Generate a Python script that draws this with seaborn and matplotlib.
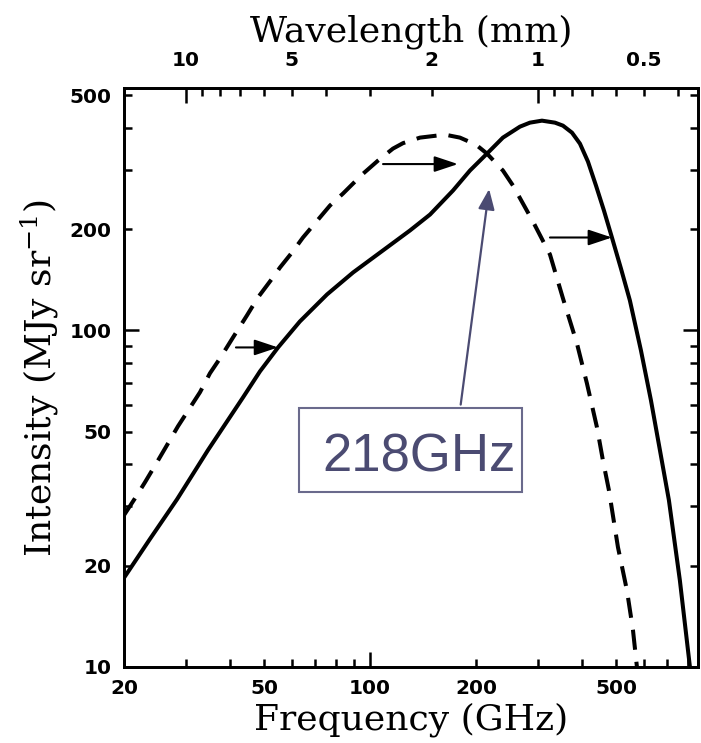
import numpy as np
import pandas as pd
import matplotlib
matplotlib.use("Agg")
import matplotlib.pyplot as plt
import seaborn as sns
from matplotlib.patches import Rectangle

# ---- data ----
solid_freq = [20.0, 23.7, 28.3, 34.65, 43.6, 48.7, 54.8, 63.2, 75.5, 89.5, 111.7, 129.9,
              148.1, 172.1, 192.3, 215.0, 238.6, 266.7, 284.7, 308.0, 335.4, 353.4, 374.9,
              395.0, 416.2, 438.6, 462.1, 486.9, 516.4, 547.6, 588.5, 628.4, 666.4, 706.8,
              759.3, 811.0, 816.0]
solid_int = [18.4, 24.0, 31.5, 44.1, 63.3, 75.6, 89.0, 106.3, 127.9, 148.6, 176.3, 198.1,
             220.9, 260.3, 298.5, 335.1, 373.9, 403.0, 414.2, 419.9, 414.2, 405.8, 386.8,
             358.7, 317.3, 269.4, 227.0, 188.8, 152.8, 122.7, 87.3, 62.0, 44.1, 31.3,
             18.1, 10.0, 9.5]

dash_freq = [20.0, 21.49, 22.95, 24.82, 26.49, 28.47, 32.88, 35.10, 37.48, 40.81, 44.71,
             48.05, 53.01, 55.50, 60.03, 64.50, 76.94, 83.80, 94.92, 105.4, 116.2, 124.1,
             138.7, 163.3, 180.1, 200.0, 215.0, 238.6, 254.8, 290.4, 324.6, 353.4, 387.2,
             413.4, 441.5, 459.0, 477.4, 506.4, 537.0, 558.6, 573.4, 577.0]
dash_int = [28.25, 31.7, 35.4, 40.6, 45.6, 51.9, 65.5, 74.6, 82.6, 95.3, 110.8, 125.3,
            143.7, 153.8, 170.4, 188.8, 234.9, 255.0, 290.3, 319.6, 346.8, 360.0, 373.9,
            381.6, 373.9, 356.3, 335.1, 298.5, 269.4, 210.6, 168.1, 124.5, 91.5, 69.6,
            51.5, 41.1, 33.5, 22.7, 16.9, 12.9, 10.0, 9.5]

arrow_from_freq = [41.6, 108.9, 324.6]
arrow_to_freq = [54.8, 177.8, 486.9]
arrow_int = [89.0, 312, 188.8]

marker_freq = 218
marker_tip_int = 263
marker_tail = (181, 60.2)
marker_text = "218GHz"

x_major = [100]
x_minor = [20, 30, 40, 50, 60, 70, 80, 90, 200, 300, 400, 500, 600, 700, 800]
x_minor_labels = ["20", "", "", "50", "", "", "", "", "200", "", "", "500", "", "", ""]
y_major = [10, 100]
y_minor = [20, 30, 40, 50, 60, 70, 80, 90, 200, 300, 400, 500]
y_minor_labels = ["20", "", "", "50", "", "", "", "", "200", "", "", "500"]
wl_major = [10, 1]
wl_minor = [9, 8, 7, 6, 5, 4, 3, 2, 0.9, 0.8, 0.7, 0.6, 0.5, 0.4]
wl_minor_labels = ["", "", "", "", "5", "", "", "2", "", "", "", "", "0.5", ""]
C_MM_GHZ = 299.79

# ---- styling ----
sns.set_theme(style="ticks")
plt.rcParams['font.family'] = ['DejaVu Sans']
plt.rcParams['text.color'] = 'black'
plt.rcParams['axes.labelcolor'] = 'black'
plt.rcParams['mathtext.fontset'] = 'custom'
plt.rcParams['mathtext.rm'] = 'DejaVu Serif'
plt.rcParams['mathtext.default'] = 'rm'

W, H = 701, 743
fig = plt.figure(figsize=(W / 100, H / 100), dpi=100)
L, R, B, T = 124, 698, 667, 88
ax = fig.add_axes([L / W, (H - B) / H, (R - L) / W, (B - T) / H])
ax.set_xscale('log')
ax.set_yscale('log')

df_s = pd.DataFrame({'freq': solid_freq, 'intensity': solid_int})
df_d = pd.DataFrame({'freq': dash_freq, 'intensity': dash_int})
sns.lineplot(data=df_s, x='freq', y='intensity', ax=ax, color='black', lw=2.9,
             sort=False, estimator=None, solid_joinstyle='round')
sns.lineplot(data=df_d, x='freq', y='intensity', ax=ax, color='black', lw=2.9,
             sort=False, estimator=None, linestyle=(0, (5.0, 3.0)))

ax.set_xlim(20, 855)
ax.set_ylim(10, 525)

lab_font = dict(family='DejaVu Serif', size=26, color='black')
ax.set_xticks(x_major, labels=[str(v) for v in x_major])
ax.set_xticks(x_minor, labels=x_minor_labels, minor=True)
ax.set_yticks(y_major, labels=[str(v) for v in y_major])
ax.set_yticks(y_minor, labels=y_minor_labels, minor=True)
ax.tick_params(which='both', direction='in', width=1.8, labelsize=14.5, colors='black')
ax.tick_params(which='major', length=11)
ax.tick_params(which='minor', length=5.5)
ax.tick_params(axis='x', which='both', pad=9)
ax.tick_params(axis='y', which='both', pad=9, right=True, labelright=False)
for lbl in ax.get_xticklabels(which='both') + ax.get_yticklabels(which='both'):
    lbl.set_fontweight('bold')
for s in ax.spines.values():
    s.set_linewidth(2.0)
    s.set_color('black')
ax.set_xlabel('Frequency (GHz)', fontdict=lab_font, labelpad=3)
ax.set_ylabel('Intensity (MJy sr$^{-1}$)', fontdict=lab_font, labelpad=6)

ax2 = ax.twiny()
ax2.set_xscale('log')
ax2.set_xlim(ax.get_xlim())
ax2.set_xticks([C_MM_GHZ / w for w in wl_major], labels=[f"{w:g}" for w in wl_major])
ax2.set_xticks([C_MM_GHZ / w for w in wl_minor], labels=wl_minor_labels, minor=True)
ax2.tick_params(which='both', direction='in', width=1.8, labelsize=14.5, pad=13, colors='black')
ax2.tick_params(which='major', length=11)
ax2.tick_params(which='minor', length=5.5)
for lbl in ax2.get_xticklabels(which='both'):
    lbl.set_fontweight('bold')
for s in ax2.spines.values():
    s.set_linewidth(2.0)
    s.set_color('black')
ax2.set_xlabel('Wavelength (mm)', fontdict=lab_font, labelpad=7)

# black arrows
for f0, f1, iv in zip(arrow_from_freq, arrow_to_freq, arrow_int):
    ax.annotate('', xy=(f1, iv), xytext=(f0, iv),
                arrowprops=dict(arrowstyle='-|>,head_length=0.72,head_width=0.24',
                                lw=1.5, color='black', shrinkA=0, shrinkB=0,
                                mutation_scale=20))

# 218 GHz marker
blue = '#4b4b72'
ax.annotate('', xy=(marker_freq, marker_tip_int), xytext=marker_tail,
            arrowprops=dict(arrowstyle='-|>,head_length=0.62,head_width=0.25',
                            lw=1.6, color=blue, shrinkA=0, shrinkB=0,
                            mutation_scale=20))
ax.add_patch(Rectangle(((299 - L) / (R - L), (B - 492) / (B - T)),
                       (522 - 299) / (R - L), (492 - 408) / (B - T),
                       transform=ax.transAxes, fill=True, facecolor='white',
                       edgecolor='#6a6a8c', lw=1.5, zorder=5))
ax.text((322 - L) / (R - L), (B - 472) / (B - T), marker_text, transform=ax.transAxes,
        family='Liberation Sans', fontsize=38, color=blue, va='baseline', ha='left',
        zorder=6)

fig.savefig('out.png', dpi=100)
